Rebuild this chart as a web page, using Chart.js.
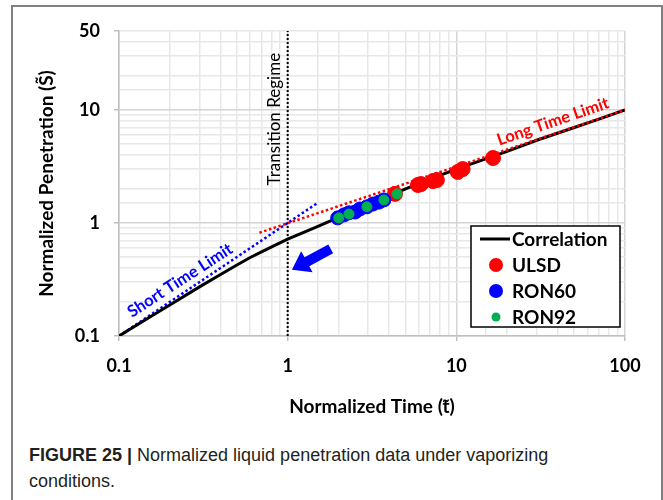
<!DOCTYPE html>
<html>
<head>
<meta charset="utf-8">
<script src="https://cdn.jsdelivr.net/npm/chart.js@4.4.0/dist/chart.umd.min.js"></script>
<style>
  html, body { margin: 0; padding: 0; background: #fff; }
  body { width: 663px; height: 500px; position: relative; overflow: hidden; }
  #frame { position: absolute; left: 11px; top: 5px; width: 648px; height: 520px; border: 2px solid #808080; border-bottom: none; }
  #wrap { position: absolute; left: 0; top: 0; width: 663px; height: 426px; }
  #caption { position: absolute; left: 29px; top: 442px; width: 560px; font-family: "Liberation Sans", Arial, sans-serif; font-size: 18px; line-height: 26px; color: #231f20; }
</style>
</head>
<body>
<div id="frame"></div>
<div id="wrap"><canvas id="myChart"></canvas></div>
<div id="caption"><b>FIGURE 25 |</b> Normalized liquid penetration data under vaporizing conditions.</div>
<script>
// Correlation curve
const corrT = [0.1, 0.15, 0.2, 0.3, 0.4, 0.5, 0.6, 0.7, 0.85, 1, 1.5, 2, 3, 5, 7, 10, 20, 30, 50, 70, 100];
const corrS = [0.1, 0.145, 0.188, 0.272, 0.35, 0.425, 0.495, 0.555, 0.64, 0.72, 0.93, 1.12, 1.45, 2.0, 2.45, 3.0, 4.3, 5.4, 7.0, 8.3, 10.0];

// limit lines
const shortT = [0.1, 1.5];
const shortS = [0.1, 1.5];
const longT = [0.68, 100];
const longS = [0.82, 10];
const transT = [1, 1];
const transS = [0.1, 50];

// measured data
const ulsdT = [4.33, 5.92, 6.17, 7.27, 7.67, 10.2, 10.9, 16.5];
const ulsdS = [1.81, 2.17, 2.21, 2.35, 2.40, 2.83, 3.0, 3.76];
const ron60T = [1.98, 2.16, 2.31, 2.51, 2.68, 2.95, 3.2, 3.48, 3.72];
const ron60S = [1.11, 1.18, 1.23, 1.25, 1.33, 1.39, 1.47, 1.53, 1.60];
const ron92T = [2.01, 2.31, 2.95, 3.72, 4.45];
const ron92S = [1.11, 1.20, 1.39, 1.60, 1.81];

const xTickLabels = [0.1, 1, 10, 100];
const yTickLabels = [0.1, 1, 10, 50];

const pts = (xs, ys) => xs.map((x, i) => ({ x: x, y: ys[i] }));
const inList = (v, list) => list.some(l => Math.abs(v - l) / l < 1e-6);
const isDecade = v => Math.abs(Math.log10(v) - Math.round(Math.log10(v))) < 1e-6;

const tickFont = { family: 'Lato, "Open Sans", sans-serif', size: 18, weight: 'bold' };
const titleFont = { family: 'Lato, "Open Sans", sans-serif', size: 19, weight: 'bold' };

// text notes placed in data coordinates
const notes = [
  { text: 'Short Time Limit', t: 0.23, s: 0.31, angle: -33, color: '#0000ff', font: 'bold 16.5px Lato, sans-serif' },
  { text: 'Long Time Limit', t: 37.4, s: 7.9, angle: -19, color: '#ff0000', font: 'bold 16.5px Lato, sans-serif' },
  { text: 'Transition Regime', t: 0.84, s: 8.3, angle: -90, color: '#000000', font: '17px Lato, sans-serif' }
];
const arrowFrom = { t: 1.8, s: 0.59 };
const arrowTo = { t: 1.06, s: 0.385 };

const annotate = {
  id: 'annotate',
  afterDatasetsDraw(chart) {
    const { ctx, chartArea } = chart;
    const x = chart.scales.x, y = chart.scales.y;
    ctx.save();
    notes.forEach(n => {
      ctx.save();
      ctx.translate(x.getPixelForValue(n.t), y.getPixelForValue(n.s));
      ctx.rotate(n.angle * Math.PI / 180);
      ctx.fillStyle = n.color;
      ctx.font = n.font;
      ctx.textAlign = 'center';
      ctx.textBaseline = 'middle';
      ctx.fillText(n.text, 0, 0);
      ctx.restore();
    });

    // blue arrow
    const x0 = x.getPixelForValue(arrowFrom.t), y0 = y.getPixelForValue(arrowFrom.s);
    const x1 = x.getPixelForValue(arrowTo.t), y1 = y.getPixelForValue(arrowTo.s);
    const ang = Math.atan2(y1 - y0, x1 - x0);
    const len = Math.hypot(x1 - x0, y1 - y0);
    ctx.save();
    ctx.translate(x0, y0);
    ctx.rotate(ang);
    ctx.fillStyle = '#0000ff';
    ctx.beginPath();
    ctx.moveTo(0, -5);
    ctx.lineTo(len - 17, -5);
    ctx.lineTo(len - 17, -12);
    ctx.lineTo(len, 0);
    ctx.lineTo(len - 17, 12);
    ctx.lineTo(len - 17, 5);
    ctx.lineTo(0, 5);
    ctx.closePath();
    ctx.fill();
    ctx.restore();

    // legend box
    const right = chartArea.right - 5, bottom = chartArea.bottom - 9;
    const w = 149, h = 101;
    const left = right - w, top = bottom - h;
    ctx.fillStyle = '#fff';
    ctx.fillRect(left, top, w, h);
    ctx.strokeStyle = '#000';
    ctx.lineWidth = 1.5;
    ctx.strokeRect(left, top, w, h);
    ctx.font = 'bold 19px Lato, sans-serif';
    ctx.textBaseline = 'middle';
    ctx.textAlign = 'left';
    chart.data.datasets.filter(d => d.legendRow !== undefined).forEach(d => {
      const ry = top + 13 + d.legendRow * 26;
      if (d.showLine) {
        ctx.strokeStyle = d.borderColor;
        ctx.lineWidth = 3;
        ctx.beginPath();
        ctx.moveTo(left + 9, ry);
        ctx.lineTo(left + 39, ry);
        ctx.stroke();
      } else {
        ctx.fillStyle = d.backgroundColor;
        ctx.beginPath();
        ctx.arc(left + 25, ry, d.legendDot, 0, Math.PI * 2);
        ctx.fill();
      }
      ctx.fillStyle = '#000';
      ctx.fillText(d.label, left + 41, ry + 1);
    });
    ctx.restore();
  }
};

const ctx = document.getElementById('myChart').getContext('2d');
const myChart = new Chart(ctx, {
  type: 'scatter',
  data: {
    datasets: [
      { label: 'RON92', data: pts(ron92T, ron92S), backgroundColor: '#00b050', borderColor: '#00b050', pointRadius: 5, order: 1, legendRow: 3, legendDot: 4.5 },
      { label: 'RON60', data: pts(ron60T, ron60S), backgroundColor: '#0000ff', borderColor: '#0000ff', pointRadius: 7, order: 2, legendRow: 2, legendDot: 7 },
      { label: 'ULSD', data: pts(ulsdT, ulsdS), backgroundColor: '#ff0000', borderColor: '#ff0000', pointRadius: 7.5, order: 3, legendRow: 1, legendDot: 7 },
      { label: 'Long Time Limit', data: pts(longT, longS), showLine: true, borderColor: '#ff0000', borderWidth: 2.5, borderDash: [2.5, 2.5], pointRadius: 0, order: 4 },
      { label: 'Correlation', data: pts(corrT, corrS), showLine: true, borderColor: '#000000', borderWidth: 3, pointRadius: 0, order: 5, legendRow: 0 },
      { label: 'Short Time Limit', data: pts(shortT, shortS), showLine: true, borderColor: '#0000ff', borderWidth: 2.5, borderDash: [2.5, 2.5], pointRadius: 0, order: 6 },
      { label: 'Transition Regime', data: pts(transT, transS), showLine: true, borderColor: '#000000', borderWidth: 2, borderDash: [2, 2], pointRadius: 0, order: 7 }
    ]
  },
  options: {
    responsive: true,
    maintainAspectRatio: false,
    animation: false,
    layout: { padding: { top: 31, right: 38, left: 0, bottom: 0 } },
    plugins: { legend: { display: false }, tooltip: { enabled: false } },
    scales: {
      x: {
        type: 'logarithmic',
        min: 0.1,
        max: 100,
        afterFit: s => { s.height = 90; },
        border: { color: '#bfbfbf', width: 1.5 },
        grid: {
          color: c => (c.tick && isDecade(c.tick.value)) ? '#d4d4d4' : '#e8e8e8',
          lineWidth: 1.5,
          tickLength: 5,
          tickColor: c => (c.tick && inList(c.tick.value, xTickLabels)) ? '#bfbfbf' : 'rgba(0,0,0,0)'
        },
        ticks: {
          autoSkip: false,
          maxRotation: 0,
          padding: 14,
          color: '#000',
          font: tickFont,
          callback: v => inList(v, xTickLabels) ? String(v) : ''
        },
        title: { display: true, text: 'Normalized Time (t\u0303)', color: '#000', font: titleFont, padding: { top: 0, bottom: 8 } }
      },
      y: {
        type: 'logarithmic',
        min: 0.1,
        max: 50,
        afterFit: s => { s.width = 119; },
        border: { color: '#bfbfbf', width: 1.5 },
        grid: {
          color: c => (c.tick && isDecade(c.tick.value)) ? '#d4d4d4' : '#e8e8e8',
          lineWidth: 1.5,
          tickLength: 5,
          tickColor: c => (c.tick && inList(c.tick.value, yTickLabels)) ? '#bfbfbf' : 'rgba(0,0,0,0)'
        },
        ticks: {
          autoSkip: false,
          padding: 14,
          color: '#000',
          font: tickFont,
          callback: v => inList(v, yTickLabels) ? String(v) : ''
        },
        title: { display: true, text: 'Normalized Penetration (S\u0303)', color: '#000', font: titleFont, padding: { top: 35, bottom: 0 } }
      }
    }
  },
  plugins: [annotate]
});
</script>
</body>
</html>
